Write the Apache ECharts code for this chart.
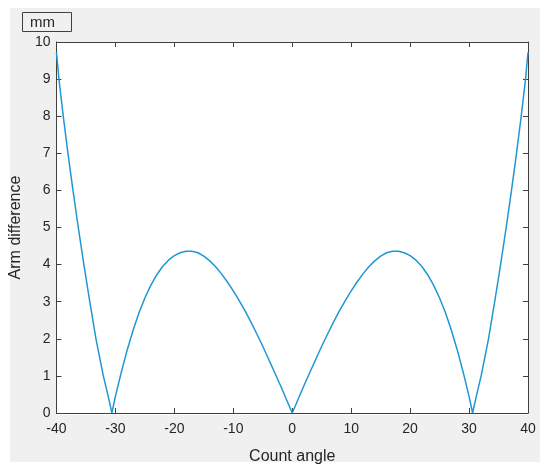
<!DOCTYPE html>
<html>
<head>
<meta charset="utf-8">
<script src="https://cdn.jsdelivr.net/npm/echarts@6/dist/echarts.min.js"></script>
<style>
html,body{margin:0;padding:0;background:#ffffff;}
#chart{width:550px;height:470px;}
</style>
</head>
<body>
<div id="chart"></div>
<script>
// Values
var angles = [-40, -39.58, -38.85, -38.05, -37.2, -36.3, -35.35, -34.35, -33.3, -32.05, -31.3, -30.6,
  -30, -29, -28, -27, -26, -25, -24, -23, -22, -21, -20, -19, -18, -17, -16, -15, -14, -13, -12, -11, -10,
  -9, -8, -7, -6, -5, -4, -3, -2, -1, 0,
  1, 2, 3, 4, 5, 6, 7, 8, 9, 10, 11, 12, 13, 14, 15, 16, 17, 18, 19, 20, 21, 22, 23, 24, 25, 26, 27, 28, 29, 30,
  30.6, 31.3, 32.05, 33.3, 34.35, 35.35, 36.3, 37.2, 38.05, 38.85, 39.58, 40];
var armDiff = [9.72, 9, 8, 7, 6, 5, 4, 3, 2, 1, 0.5, 0,
  0.45, 1.10, 1.70, 2.23, 2.70, 3.10, 3.44, 3.72, 3.95, 4.12, 4.24, 4.32, 4.36, 4.36, 4.32, 4.23, 4.10, 3.94, 3.75, 3.53, 3.29,
  3.03, 2.75, 2.45, 2.13, 1.80, 1.45, 1.10, 0.74, 0.37, 0,
  0.37, 0.74, 1.10, 1.45, 1.80, 2.13, 2.45, 2.75, 3.03, 3.29, 3.53, 3.75, 3.94, 4.10, 4.23, 4.32, 4.36, 4.36, 4.32, 4.24, 4.12, 3.95, 3.72, 3.44, 3.10, 2.70, 2.23, 1.70, 1.10, 0.45,
  0, 0.5, 1, 2, 3, 4, 5, 6, 7, 8, 9, 9.72];
var xTicks = [-40, -30, -20, -10, 0, 10, 20, 30, 40];
var yTicks = [0, 1, 2, 3, 4, 5, 6, 7, 8, 9, 10];
var xLabel = 'Count angle';
var yLabel = 'Arm difference';
var boxText = 'mm';

var points = angles.map(function (a, i) { return [a, armDiff[i]]; });

var axisColor = '#404040';
var textColor = '#262626';
var fontFam = '"Liberation Sans", Arial, Helvetica, sans-serif';

var chart = echarts.init(document.getElementById('chart'), null, {renderer: 'canvas'});
var baseX = {
  type: 'value', min: xTicks[0], max: xTicks[xTicks.length - 1], interval: 10,
  splitLine: {show: false},
  axisLine: {show: true, onZero: false, lineStyle: {color: axisColor, width: 1}},
  axisTick: {show: true, inside: true, length: 5, lineStyle: {color: axisColor}}
};
var baseY = {
  type: 'value', min: yTicks[0], max: yTicks[yTicks.length - 1], interval: 1,
  splitLine: {show: false},
  axisLine: {show: true, onZero: false, lineStyle: {color: axisColor, width: 1}},
  axisTick: {show: true, inside: true, length: 5, lineStyle: {color: axisColor}}
};
chart.setOption({
  animation: false,
  backgroundColor: '#ffffff',
  graphic: [{
    type: 'rect', z: -10, silent: true,
    shape: {x: 10, y: 8, width: 530, height: 454},
    style: {fill: '#f0f0f0'}
  }, {
    type: 'rect', z: -9, silent: true,
    shape: {x: 56, y: 42, width: 472, height: 373},
    style: {fill: '#ffffff'}
  }],
  title: {
    text: boxText, left: 22, top: 12,
    borderColor: axisColor, borderWidth: 1,
    padding: [3, 17, 2, 8],
    backgroundColor: '#f0f0f0',
    textStyle: {fontFamily: fontFam, fontSize: 15, fontWeight: 'normal', color: textColor}
  },
  grid: {left: 56, top: 42, width: 472, height: 373, containLabel: false},
  xAxis: [
    Object.assign({}, baseX, {
      position: 'bottom',
      name: xLabel, nameLocation: 'middle', nameGap: 36,
      nameTextStyle: {fontFamily: fontFam, fontSize: 16, color: textColor},
      axisLabel: {show: true, margin: 9, fontFamily: fontFam, fontSize: 14, color: textColor}
    }),
    Object.assign({}, baseX, {position: 'top', axisLabel: {show: false}})
  ],
  yAxis: [
    Object.assign({}, baseY, {
      position: 'left',
      name: yLabel, nameLocation: 'middle', nameGap: 32,
      nameTextStyle: {fontFamily: fontFam, fontSize: 16, color: textColor},
      axisLabel: {show: true, margin: 6, fontFamily: fontFam, fontSize: 14, color: textColor}
    }),
    Object.assign({}, baseY, {position: 'right', axisLabel: {show: false}})
  ],
  series: [{
    type: 'line',
    data: points,
    xAxisIndex: 0, yAxisIndex: 0,
    showSymbol: false, symbol: 'none',
    smooth: false,
    lineStyle: {color: '#1f97d4', width: 1.5},
    clip: true
  }]
});
</script>
</body>
</html>
